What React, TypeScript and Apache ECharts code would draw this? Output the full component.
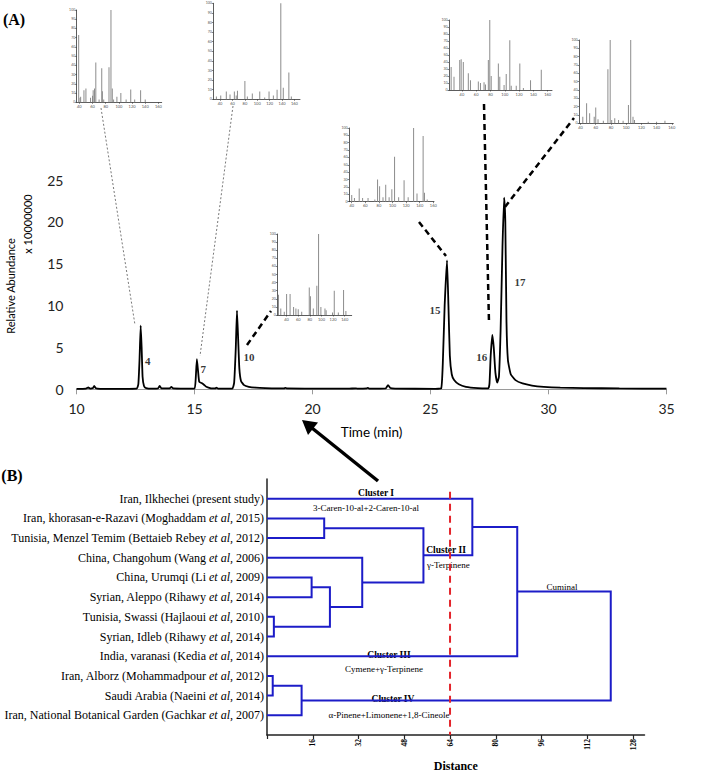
import React, { useEffect, useRef } from 'react';
import * as echarts from 'echarts';

// ---------- Panel A: chromatogram ----------
const chromTime = [10.0, 10.4, 10.5, 10.58, 10.7, 10.75, 10.82, 11.0, 12.0, 12.55, 12.62, 12.67, 12.72, 12.76, 12.8, 12.86, 12.95, 13.2, 13.45, 13.52, 13.6, 13.95, 14.02, 14.1, 14.6, 15.0, 15.05, 15.1, 15.15, 15.2, 15.3, 15.4, 15.5, 15.7, 15.88, 15.92, 16.0, 16.6, 16.68, 16.75, 16.8, 16.85, 16.9, 16.97, 17.1, 17.3, 17.6, 18.0, 18.8, 18.85, 18.9, 20.0, 21.5, 21.85, 21.9, 22.3, 22.35, 22.4, 23.1, 23.2, 23.3, 23.5, 25.2, 25.45, 25.52, 25.6, 25.7, 25.76, 25.82, 25.9, 26.0, 26.2, 26.5, 27.0, 27.45, 27.5, 27.55, 27.62, 27.68, 27.75, 27.83, 27.9, 27.97, 28.05, 28.12, 28.17, 28.22, 28.28, 28.4, 28.6, 28.9, 29.3, 29.8, 30.5, 31.5, 33.0, 35.0];
const chromAbund = [0.05, 0.08, 0.22, 0.08, 0.15, 0.4, 0.12, 0.06, 0.06, 0.08, 0.6, 3.5, 7.6, 5.0, 1.5, 0.4, 0.15, 0.08, 0.1, 0.4, 0.12, 0.1, 0.3, 0.1, 0.08, 0.08, 1.2, 3.6, 2.2, 0.9, 0.75, 0.55, 0.3, 0.12, 0.1, 0.2, 0.08, 0.08, 0.8, 5.0, 9.4, 6.0, 2.5, 1.0, 0.5, 0.3, 0.2, 0.15, 0.1, 0.18, 0.1, 0.08, 0.07, 0.12, 0.07, 0.1, 0.18, 0.08, 0.1, 0.5, 0.15, 0.08, 0.06, 0.1, 3.0, 10.0, 15.4, 10.0, 4.0, 1.8, 1.1, 0.6, 0.3, 0.15, 0.12, 0.7, 4.0, 6.5, 5.0, 2.0, 0.8, 1.5, 7.0, 17.0, 22.9, 20.0, 8.0, 3.5, 1.8, 1.1, 0.7, 0.45, 0.3, 0.2, 0.15, 0.1, 0.08];

const peakNames = ['4', '7', '10', '15', '16', '17'];
const peakLabelTime = [13.02, 15.37, 17.31, 25.19, 27.17, 28.79];
const peakLabelLevel = [3.4, 2.4, 3.9, 9.5, 3.9, 12.8];

// ---------- Inset mass spectra ----------
const inset1Mz = [39, 41, 42, 47, 50, 57, 60, 61, 63, 65, 70, 74, 75, 77, 85, 88, 90, 92, 97, 103, 111, 118, 124, 133, 140];
const inset1Int = [73, 5, 6, 13, 15, 5, 7, 13, 15, 43, 3, 37, 12, 3, 38, 100, 15, 3, 6, 10, 3, 14, 3, 13, 3];
const inset2Mz = [34, 41, 50, 56, 63, 66, 68, 80, 84, 92, 104, 112, 119, 126, 132, 138, 142, 151, 155];
const inset2Int = [3, 4, 8, 5, 8, 4, 9, 19, 3, 6, 8, 2, 8, 4, 10, 100, 12, 28, 3];
const inset3Mz = [26, 30, 36, 40, 46, 52, 56, 60, 66, 79, 81, 86, 92, 95, 99, 106, 108, 119, 122, 129, 138, 142];
const inset3Int = [25, 8, 4, 26, 26, 10, 8, 7, 4, 34, 23, 8, 36, 100, 10, 8, 6, 3, 30, 3, 31, 5];
const inset4Mz = [40, 44, 51, 56, 64, 74, 78, 81, 86, 90, 95, 99, 103, 109, 117, 123, 131, 136, 145, 147, 151];
const inset4Int = [9, 5, 18, 5, 5, 3, 30, 21, 6, 23, 6, 17, 61, 6, 29, 6, 100, 11, 89, 12, 3];
const inset5Mz = [25, 29, 37, 39, 42, 49, 52, 63, 66, 71, 73, 77, 79, 81, 91, 93, 99, 102, 107, 109, 116, 121, 126, 136, 151];
const inset5Int = [33, 19, 43, 44, 40, 24, 14, 12, 10, 11, 8, 43, 100, 20, 38, 19, 7, 23, 71, 6, 6, 38, 3, 14, 29];
const inset6Mz = [43, 48, 52, 58, 60, 63, 70, 76, 79, 81, 85, 90, 96, 103, 106, 109, 111, 129, 140, 151];
const inset6Int = [8, 24, 12, 8, 19, 5, 3, 65, 100, 4, 6, 4, 3, 22, 100, 8, 4, 2, 2, 3];
const insetTicks = [20, 40, 60, 80, 100, 120, 140, 160];

// ---------- Panel B: dendrogram ----------
const leafPlace = [
  'Iran, Ilkhechei (present study)',
  'Iran, khorasan-e-Razavi (Moghaddam ',
  'Tunisia, Menzel Temim (Bettaieb Rebey ',
  'China, Changohum (Wang ',
  'China, Urumqi (Li ',
  'Syrian, Aleppo (Rihawy ',
  'Tunisia, Swassi (Hajlaoui ',
  'Syrian, Idleb (Rihawy ',
  'India, varanasi (Kedia ',
  'Iran, Alborz (Mohammadpour ',
  'Saudi Arabia (Naeini ',
  'Iran, National Botanical Garden (Gachkar ',
];
const leafItalic = ['', 'et al,', 'et al,', 'et al,', 'et al,', 'et al,', 'et al', 'et al', 'et al', 'et al', 'et al', 'et al'];
const leafTail = ['', ' 2015)', ' 2012)', ' 2006)', ' 2009)', ' 2014)', ', 2010)', ', 2014)', ', 2014)', ', 2012)', ', 2014)', ', 2007)'];

const mergeLeft = [9, 12, 6, 4, 15, 3, 1, 18, 0, 20, 21];
const mergeRight = [10, 11, 7, 5, 14, 16, 2, 17, 19, 8, 13];
const mergeDistance = [2.0, 12.1, 2.4, 15.6, 22.0, 33.3, 20.0, 54.7, 71.8, 87.5, 120.2];
const cutDistance = 64;
const distanceTicks = [0, 16, 32, 48, 64, 80, 96, 112, 128];

const SERIF = '"Liberation Serif", "Times New Roman", serif';
const SANS = 'Lato, "Open Sans", sans-serif';

function buildOption() {
  const insets = [
    { mz: inset1Mz, it: inset1Int, box: { left: 76.7, top: 10, width: 85, height: 92.3 }, min: 36, max: 165 },
    { mz: inset2Mz, it: inset2Int, box: { left: 213.3, top: 3.3, width: 86.7, height: 96 }, min: 29, max: 169 },
    { mz: inset3Mz, it: inset3Int, box: { left: 277.3, top: 234, width: 74.4, height: 81 }, min: 24, max: 152 },
    { mz: inset4Mz, it: inset4Int, box: { left: 349, top: 128, width: 85, height: 73.7 }, min: 36, max: 161 },
    { mz: inset5Mz, it: inset5Int, box: { left: 449, top: 20, width: 103, height: 70 }, min: 22, max: 166 },
    { mz: inset6Mz, it: inset6Int, box: { left: 579, top: 40, width: 94.3, height: 83.3 }, min: 38, max: 162 },
  ];

  const grids: any[] = [{ left: 76.5, top: 180, width: 590, height: 209.3 }];
  const xAxes: any[] = [{
    gridIndex: 0, type: 'value', min: 10, max: 35, interval: 5,
    axisLine: { show: true, lineStyle: { color: '#9a9a9a', width: 1.2 } },
    axisTick: { show: true, length: 5, lineStyle: { color: '#9a9a9a' } },
    axisLabel: { fontFamily: SANS, fontSize: 14, color: '#222', margin: 12 },
    splitLine: { show: false },
  }];
  const yAxes: any[] = [{
    gridIndex: 0, type: 'value', min: 0, max: 25, interval: 5,
    axisLine: { show: false }, axisTick: { show: false },
    axisLabel: { fontFamily: SANS, fontSize: 14, color: '#222', margin: 13 },
    splitLine: { show: false },
  }];
  const series: any[] = [
    {
      type: 'line', xAxisIndex: 0, yAxisIndex: 0, showSymbol: false, smooth: 0.15,
      data: chromTime.map((t, i) => [t, chromAbund[i]]),
      lineStyle: { color: '#000', width: 1.8 }, silent: true,
    },
    {
      type: 'scatter', xAxisIndex: 0, yAxisIndex: 0, symbolSize: 0,
      data: peakLabelTime.map((t, i) => [t, peakLabelLevel[i]]),
      label: {
        show: true, position: 'inside', formatter: (p: any) => peakNames[p.dataIndex],
        fontFamily: SERIF, fontWeight: 'bold', fontSize: 11, color: '#000',
      },
      silent: true,
    },
  ];

  insets.forEach((ins, k) => {
    const gi = k + 1;
    grids.push(ins.box);
    const tv = insetTicks.filter((v) => v >= ins.min && v <= ins.max);
    xAxes.push({
      gridIndex: gi, type: 'value', min: ins.min, max: ins.max,
      axisLine: { show: true, onZero: false, lineStyle: { color: '#333', width: 0.8 } },
      axisTick: { show: true, length: 1.5, customValues: tv, lineStyle: { color: '#333', width: 0.6 } },
      axisLabel: { show: true, customValues: tv, fontSize: 4, color: '#555', margin: 2, fontFamily: SANS },
      splitLine: { show: false },
    });
    yAxes.push({
      gridIndex: gi, type: 'value', min: 0, max: 100, interval: 10,
      axisLine: { show: true, onZero: false, lineStyle: { color: '#333', width: 0.8 } },
      axisTick: { show: true, length: 1.5, lineStyle: { color: '#333', width: 0.6 } },
      axisLabel: { show: true, fontSize: 3.5, color: '#555', margin: 1.5, fontFamily: SANS },
      splitLine: { show: false },
    });
    series.push({
      type: 'bar', xAxisIndex: gi, yAxisIndex: gi, barWidth: 1,
      data: ins.mz.map((m, j) => [m, ins.it[j]]),
      itemStyle: { color: '#8c8c8c' }, silent: true,
    });
  });

  // dendrogram
  const dg = 7;
  grids.push({ left: 267, top: 479, width: 377.5, height: 260 });
  xAxes.push({
    gridIndex: dg, type: 'value', min: 0, max: 132, position: 'bottom',
    axisLine: { show: true, onZero: false, lineStyle: { color: '#222', width: 1.5 } },
    axisTick: { show: true, length: 4, customValues: distanceTicks, lineStyle: { color: '#222', width: 1.2 } },
    axisLabel: {
      show: true, customValues: distanceTicks.slice(1), rotate: 90, fontSize: 7.5,
      fontWeight: 'bold', fontFamily: SERIF, color: '#000', margin: 4,
    },
    splitLine: { show: false },
    name: 'Distance', nameLocation: 'middle', nameGap: 25,
    nameTextStyle: { fontFamily: SERIF, fontWeight: 'bold', fontSize: 12, color: '#000' },
  });
  const leafIdx = leafPlace.map((_, i) => i);
  yAxes.push({
    gridIndex: dg, type: 'value', min: -1, max: 12, inverse: true, position: 'left',
    axisLine: { show: true, onZero: false, lineStyle: { color: '#222', width: 1.5 } },
    axisTick: { show: false },
    axisLabel: {
      show: true, customValues: leafIdx, margin: 3,
      formatter: (v: number) => {
        const i = Math.round(v);
        if (i < 0 || i >= leafPlace.length) return '';
        let s = '{n|' + leafPlace[i] + '}';
        if (leafItalic[i]) s += '{i|' + leafItalic[i] + '}';
        if (leafTail[i]) s += '{n|' + leafTail[i] + '}';
        return s;
      },
      rich: {
        n: { fontFamily: SERIF, fontSize: 12, color: '#000' },
        i: { fontFamily: SERIF, fontSize: 12, color: '#000', fontStyle: 'italic' },
      },
    },
    splitLine: { show: false },
  });

  const nodeY: number[] = leafPlace.map((_, i) => i);
  const nodeD: number[] = leafPlace.map(() => 0);
  const segs: any[] = [];
  mergeLeft.forEach((a, k) => {
    const b = mergeRight[k];
    const d = mergeDistance[k];
    segs.push({ coords: [[nodeD[a], nodeY[a]], [d, nodeY[a]], [d, nodeY[b]], [nodeD[b], nodeY[b]]] });
    nodeY.push((nodeY[a] + nodeY[b]) / 2);
    nodeD.push(d);
  });
  series.push({
    type: 'lines', coordinateSystem: 'cartesian2d', xAxisIndex: dg, yAxisIndex: dg,
    polyline: true, data: segs,
    lineStyle: { color: '#1c1cc8', width: 2, opacity: 1 }, silent: true,
  });
  series.push({
    type: 'line', xAxisIndex: dg, yAxisIndex: dg, showSymbol: false,
    data: [[cutDistance, -0.35], [cutDistance, 12]],
    lineStyle: { color: '#e3242b', width: 2, type: [7, 5] }, silent: true,
  });

  const txt = (text: string, x: number, y: number, size: number, opts: any = {}) => ({
    type: 'text', x, y, rotation: opts.rotation || 0, silent: true,
    style: {
      text, fill: '#000', fontSize: size, fontFamily: opts.family || SERIF,
      fontWeight: opts.bold ? 'bold' : 'normal', fontStyle: opts.italic ? 'italic' : 'normal',
      align: opts.align || 'center', verticalAlign: 'middle',
    },
  });
  const seg = (x1: number, y1: number, x2: number, y2: number, dash: number[], w: number, color: string) => ({
    type: 'line', silent: true, shape: { x1, y1, x2, y2 },
    style: { stroke: color, lineWidth: w, lineDash: dash },
  });

  const graphic: any[] = [
    txt('(A)', 14, 19, 16, { bold: true }),
    txt('(B)', 12, 475, 16, { bold: true }),
    txt('Relative Abundance', 10, 286, 11, { family: SANS, rotation: Math.PI / 2 }),
    txt('x 10000000', 27, 224, 11, { family: SANS, rotation: Math.PI / 2 }),
    txt('Time (min)', 371.5, 432, 13.5, { family: SANS }),
    // connectors
    seg(101, 108, 135, 325, [2, 2], 0.8, '#555'),
    seg(233, 106, 200, 356, [2, 2], 0.8, '#555'),
    seg(247, 345, 271, 311, [6, 4], 2.5, '#000'),
    seg(419, 222, 446, 256, [6, 4], 2.5, '#000'),
    seg(484, 104, 489, 323, [6, 4], 2.5, '#000'),
    seg(505, 207, 574, 118, [6, 4], 2.5, '#000'),
    // arrow
    seg(378, 481, 312, 428, [], 3.5, '#000'),
    { type: 'polygon', silent: true, shape: { points: [[302, 420], [318, 422.5], [308, 435]] }, style: { fill: '#000' } },
    // dendrogram annotations
    txt('Cluster I', 376, 493, 9.5, { bold: true }),
    txt('3-Caren-10-al+2-Caren-10-al', 366, 508, 9),
    txt('Cluster II', 446, 550, 9.5, { bold: true }),
    txt('γ-Terpinene', 427, 565, 9, { align: 'left' }),
    txt('Cuminal', 562, 587, 9),
    txt('Cluster III', 389, 654.5, 9.5, { bold: true }),
    txt('Cymene+γ-Terpinene', 384, 668.5, 9),
    txt('Cluster IV', 393, 698.5, 9.5, { bold: true }),
    txt('α-Pinene+Limonene+1,8-Cineole', 389, 715, 9),
  ];

  return {
    animation: false,
    backgroundColor: '#fff',
    textStyle: { fontFamily: SERIF },
    grid: grids,
    xAxis: xAxes,
    yAxis: yAxes,
    series,
    graphic,
  };
}

export default function App() {
  const ref = useRef<HTMLDivElement>(null);
  useEffect(() => {
    const chart = echarts.init(ref.current!, null, { renderer: 'svg' });
    chart.setOption(buildOption() as any);
    return () => chart.dispose();
  }, []);
  return (
    <div
      ref={ref}
      style={{ position: 'absolute', left: 0, top: 0, width: 709, height: 773, background: '#fff' }}
    />
  );
}
